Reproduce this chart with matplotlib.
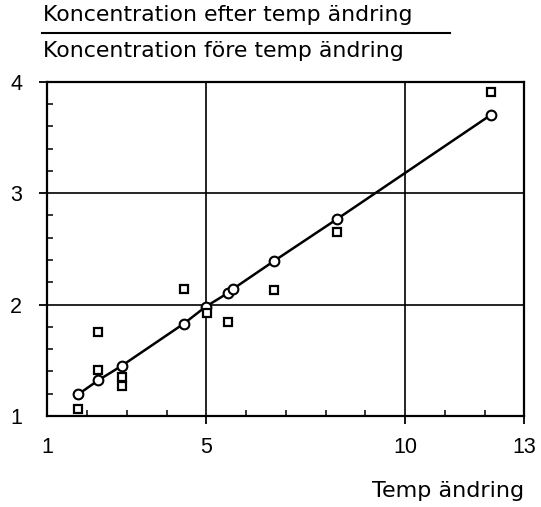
import matplotlib
matplotlib.use("Agg")
import matplotlib.pyplot as plt
from matplotlib.lines import Line2D
from matplotlib.ticker import MultipleLocator

plt.rcParams["font.family"] = ["Liberation Sans", "DejaVu Sans"]

# Temperature change and concentration ratio (after / before)
temp_fit = [1.78, 2.28, 2.87, 4.44, 4.98, 5.55, 5.67, 6.70, 8.30, 12.15]
ratio_fit = [1.195, 1.32, 1.45, 1.83, 1.98, 2.105, 2.14, 2.39, 2.77, 3.70]

temp_obs = [1.78, 2.28, 2.28, 2.87, 2.87, 4.44, 5.02, 5.55, 6.70, 8.30, 12.15]
ratio_obs = [1.06, 1.75, 1.41, 1.35, 1.27, 2.14, 1.92, 1.84, 2.13, 2.65, 3.91]

x_ticks = [1, 5, 10, 13]
y_ticks = [1, 2, 3, 4]

W, H = 541, 507
fig = plt.figure(figsize=(W / 100, H / 100), dpi=100)
ax = fig.add_axes([47.3 / W, 1 - 416 / H, (524.3 - 47.3) / W, (416 - 81.7) / H])

ax.plot(temp_fit, ratio_fit, color="black", lw=1.8, marker="o", ms=7,
        mfc="white", mec="black", mew=1.5, zorder=3)
ax.plot(temp_obs, ratio_obs, ls="none", marker="s", ms=6,
        mfc="white", mec="black", mew=1.6, zorder=4)

ax.set_xlim(1, 13)
ax.set_ylim(1, 4)
ax.set_xticks(x_ticks)
ax.set_yticks(y_ticks)
ax.xaxis.set_minor_locator(MultipleLocator(1))
ax.yaxis.set_minor_locator(MultipleLocator(0.2))
ax.tick_params(which="major", direction="out", length=6, width=1.3,
               labelsize=15.5)
ax.tick_params(axis="x", which="major", pad=9)
ax.tick_params(axis="y", which="major", pad=12)
ax.tick_params(which="minor", direction="in", length=4.5, width=1.1)
ax.xaxis.get_major_ticks()[0].tick1line.set_visible(False)
ax.yaxis.get_major_ticks()[0].tick1line.set_visible(False)
ax.grid(True, which="major", color="black", lw=1.2)
for s in ax.spines.values():
    s.set_linewidth(1.6)

title_font = ["DejaVu Sans"]
fig.text(43 / W, 1 - 20.7 / H, "Koncentration efter temp ändring",
         fontsize=15.8, family=title_font, ha="left", va="baseline")
fig.add_artist(Line2D([42 / W, 450 / W], [1 - 33.3 / H, 1 - 33.3 / H],
                      color="black", lw=1.5, transform=fig.transFigure))
fig.text(43 / W, 1 - 57 / H, "Koncentration före temp ändring",
         fontsize=15.8, family=title_font, ha="left", va="baseline")
fig.text(524 / W, 1 - 497 / H, "Temp ändring", fontsize=16,
         family=title_font, ha="right", va="baseline")

fig.savefig("out.png", dpi=100)
